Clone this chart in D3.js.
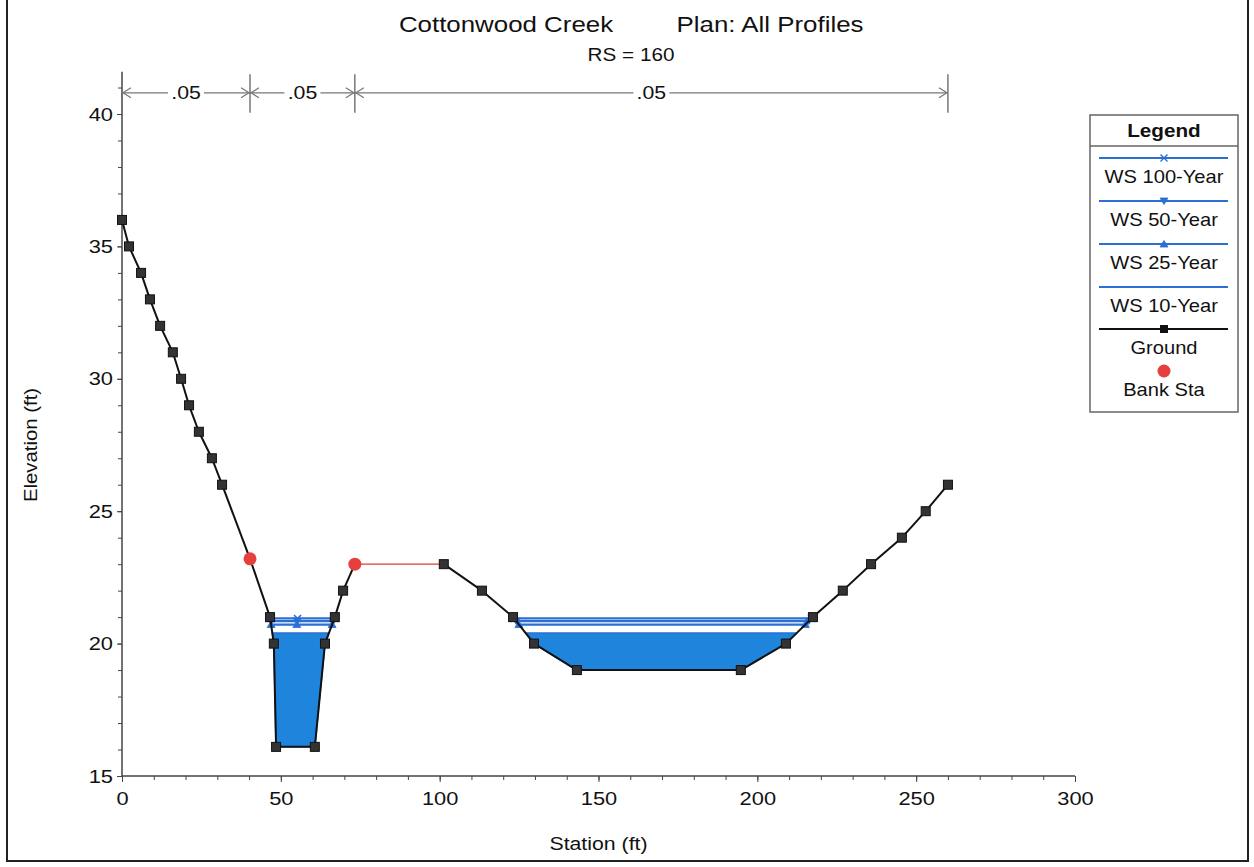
<!DOCTYPE html>
<html>
<head>
    <meta charset="utf-8" />
    <title>Cottonwood Creek RS 160</title>
    <style>
        body { margin: 0; background: #fff; }
        text { font-family: "Liberation Sans", Arial, sans-serif; fill: #111; }
    </style>
</head>
<body>
    <div id="chart"></div>

    <script src="https://d3js.org/d3.v7.min.js"></script>
    <script>
        // cross section ground (station ft, elevation ft)
        const groundSta = [0, 2.2, 6, 8.8, 12, 16, 18.6, 21.1, 24.2, 28.3, 31.5, 40.3, 46.6, 47.8, 48.5, 60.7, 63.9, 67, 69.6, 73.3,
                           101.3, 113.3, 123.1, 129.7, 143.2, 194.8, 209, 217.5, 226.9, 235.8, 245.5, 253, 260];
        const groundElev = [36, 35, 34, 33, 32, 31, 30, 29, 28, 27, 26, 23.2, 21, 20, 16.1, 16.1, 20, 21, 22, 23,
                            23, 22, 21, 20, 19, 19, 20, 21, 22, 23, 24, 25, 26];
        const bankSta = [40.3, 73.3];
        const nValues = [".05", ".05", ".05"];

        const profiles = ["WS 100-Year", "WS 50-Year", "WS 25-Year", "WS 10-Year"];
        const wsElev = [20.95, 20.85, 20.72, 20.40];
        const wsMarker = ["x", "down", "up", "none"];

        const xTicks = [0, 50, 100, 150, 200, 250, 300];
        const yTicks = [15, 20, 25, 30, 35, 40];

        const width = 1254, height = 867;
        const sx = 1.15; // printed fonts are a bit wide

        const svg = d3.select("#chart").append("svg")
            .attr("width", width)
            .attr("height", height);

        const x = d3.scaleLinear().domain([0, 300]).range([122, 1075]);
        const y = d3.scaleLinear().domain([15, 40]).range([776, 114]);

        const blueLine = "#2a6fd4";
        const blueFill = "#1e84dc";

        const addText = (g, px, py, str, size, anchor, weight) => {
            return g.append("text")
                .attr("transform", `translate(${px},${py}) scale(${sx},1)`)
                .attr("text-anchor", anchor || "middle")
                .style("font-size", size + "px")
                .style("font-weight", weight || "normal")
                .text(str);
        };

        // outer frame
        svg.append("rect")
            .attr("x", 7).attr("y", -2)
            .attr("width", 1241).attr("height", 863)
            .attr("fill", "none")
            .attr("stroke", "#222")
            .attr("stroke-width", 2);

        // titles
        addText(svg, 506, 32, "Cottonwood Creek", 22.5);
        addText(svg, 770, 32, "Plan: All Profiles", 22.5);
        addText(svg, 631, 61, "RS = 160", 18);

        // axes
        const xMinor = svg.append("g").attr("transform", `translate(0,${y(15)})`)
            .call(d3.axisBottom(x).tickValues(d3.range(0, 301, 10)).tickSize(4).tickFormat(""));
        const xAxis = svg.append("g").attr("transform", `translate(0,${y(15)})`)
            .call(d3.axisBottom(x).tickValues(xTicks).tickSize(6).tickPadding(10));
        const yMinor = svg.append("g").attr("transform", `translate(${x(0)},0)`)
            .call(d3.axisLeft(y).tickValues(d3.range(15, 42, 1)).tickSize(4).tickFormat(""));
        const yAxis = svg.append("g").attr("transform", `translate(${x(0)},0)`)
            .call(d3.axisLeft(y).tickValues(yTicks).tickSize(5).tickPadding(4));

        [xMinor, xAxis, yMinor, yAxis].forEach(g => {
            g.select(".domain").remove();
            g.selectAll("line").attr("stroke", "#444");
        });
        [xAxis, yAxis].forEach(g => {
            g.selectAll("text")
                .attr("transform", `scale(${sx},1)`)
                .style("font-size", "19px")
                .style("font-family", "'Liberation Sans', Arial, sans-serif")
                .attr("fill", "#111");
        });
        yAxis.selectAll("text").attr("x", -9 / sx);

        svg.append("line")
            .attr("x1", x(0)).attr("x2", x(300))
            .attr("y1", y(15)).attr("y2", y(15))
            .attr("stroke", "#444").attr("stroke-width", 1.5);
        svg.append("line")
            .attr("x1", x(0)).attr("x2", x(0))
            .attr("y1", y(15)).attr("y2", y(41.6))
            .attr("stroke", "#444").attr("stroke-width", 1.5);

        addText(svg, x(150), 850, "Station (ft)", 18.5);
        svg.append("text")
            .attr("transform", `translate(37,${y(27.5)}) rotate(-90) scale(1.1,1)`)
            .attr("text-anchor", "middle")
            .style("font-size", "18.5px")
            .text("Elevation (ft)");

        // manning's n bar along the top
        const nY = y(40.8);
        const nBreaks = [0, bankSta[0], bankSta[1], groundSta[groundSta.length - 1]];
        const nGroup = svg.append("g").attr("stroke", "#777").attr("fill", "none").attr("stroke-width", 1.2);
        nBreaks.slice(1).forEach(s => {
            nGroup.append("line")
                .attr("x1", x(s)).attr("x2", x(s))
                .attr("y1", y(41.5)).attr("y2", y(40.05))
                .attr("stroke", "#555");
        });
        d3.pairs(nBreaks).forEach((p, i) => {
            const x0 = x(p[0]), x1 = x(p[1]), xm = (x0 + x1) / 2;
            const half = 18;
            nGroup.append("line").attr("x1", x0).attr("x2", xm - half).attr("y1", nY).attr("y2", nY);
            nGroup.append("line").attr("x1", xm + half).attr("x2", x1).attr("y1", nY).attr("y2", nY);
            nGroup.append("path").attr("d", `M${x0 + 9},${nY - 5}L${x0 + 1},${nY}L${x0 + 9},${nY + 5}`);
            nGroup.append("path").attr("d", `M${x1 - 9},${nY - 5}L${x1 - 1},${nY}L${x1 - 9},${nY + 5}`);
            addText(svg, xm, nY + 6, nValues[i], 18.5);
        });

        // water surfaces
        const ground = groundSta.map((s, i) => [s, groundElev[i]]);
        const groundAt = (s) => {
            for (let i = 0; i < ground.length - 1; i++) {
                if (s >= ground[i][0] && s <= ground[i + 1][0]) {
                    const t = (s - ground[i][0]) / (ground[i + 1][0] - ground[i][0]);
                    return ground[i][1] + t * (ground[i + 1][1] - ground[i][1]);
                }
            }
            return ground[ground.length - 1][1];
        };
        const wetAreas = (ws) => {
            const areas = [];
            let cur = null;
            for (let i = 0; i < ground.length - 1; i++) {
                const [s0, e0] = ground[i], [s1, e1] = ground[i + 1];
                if (cur === null && e0 >= ws && e1 < ws) {
                    const t = (e0 - ws) / (e0 - e1);
                    cur = [[s0 + t * (s1 - s0), ws]];
                }
                if (cur && e1 < ws) cur.push([s1, e1]);
                if (cur && e0 < ws && e1 >= ws) {
                    const t = (ws - e0) / (e1 - e0);
                    cur.push([s0 + t * (s1 - s0), ws]);
                    areas.push(cur);
                    cur = null;
                }
            }
            return areas;
        };

        const line = d3.line().x(d => x(d[0])).y(d => y(d[1]));

        const markerPath = (type) => {
            if (type === "x") return "M-3.5,-3.5L3.5,3.5M-3.5,3.5L3.5,-3.5";
            if (type === "down") return "M-4,-3L4,-3L0,3.5Z";
            if (type === "up") return "M-4,3L4,3L0,-3.5Z";
            return null;
        };

        // filled lowest profile first
        const lowIdx = profiles.length - 1;
        wetAreas(wsElev[lowIdx]).forEach(a => {
            svg.append("path")
                .attr("d", line(a) + "Z")
                .attr("fill", blueFill)
                .attr("stroke", blueLine)
                .attr("stroke-width", 1.5);
        });

        profiles.forEach((p, i) => {
            if (i === lowIdx) return;
            wetAreas(wsElev[i]).forEach(a => {
                const s0 = a[0][0], s1 = a[a.length - 1][0];
                svg.append("line")
                    .attr("x1", x(s0)).attr("x2", x(s1))
                    .attr("y1", y(wsElev[i])).attr("y2", y(wsElev[i]))
                    .attr("stroke", blueLine)
                    .attr("stroke-width", 2.2);
                const spots = [s0, s1];
                if (s0 > bankSta[0] && s1 < bankSta[1]) spots.push((s0 + s1) / 2 - 1.5);
                spots.forEach(s => {
                    const isX = wsMarker[i] === "x";
                    svg.append("path")
                        .attr("transform", `translate(${x(s)},${y(wsElev[i])})`)
                        .attr("d", markerPath(wsMarker[i]))
                        .attr("fill", isX ? "none" : blueLine)
                        .attr("stroke", blueLine)
                        .attr("stroke-width", isX ? 1.6 : 0.8);
                });
            });
        });

        // ground line, the stretch right of the right bank is drawn red
        d3.pairs(ground).forEach(pr => {
            const red = pr[0][0] === bankSta[1];
            svg.append("line")
                .attr("x1", x(pr[0][0])).attr("y1", y(pr[0][1]))
                .attr("x2", x(pr[1][0])).attr("y2", y(pr[1][1]))
                .attr("stroke", red ? "#e03a36" : "#111")
                .attr("stroke-width", red ? 1.2 : 2);
        });

        svg.selectAll("rect.ground")
            .data(ground.filter(d => bankSta.indexOf(d[0]) < 0))
            .enter()
            .append("rect")
            .attr("class", "ground")
            .attr("x", d => x(d[0]) - 4.5)
            .attr("y", d => y(d[1]) - 4.5)
            .attr("width", 9).attr("height", 9)
            .attr("fill", "#333")
            .attr("stroke", "#111")
            .attr("stroke-width", 1);

        svg.selectAll("circle.bank")
            .data(bankSta)
            .enter()
            .append("circle")
            .attr("class", "bank")
            .attr("cx", d => x(d))
            .attr("cy", d => y(groundAt(d)))
            .attr("r", 6.5)
            .attr("fill", "#e5403d");

        // legend
        const lg = svg.append("g");
        lg.append("rect")
            .attr("x", 1090).attr("y", 115)
            .attr("width", 148).attr("height", 297)
            .attr("fill", "#fff")
            .attr("stroke", "#666")
            .attr("stroke-width", 1.5);
        lg.append("line")
            .attr("x1", 1090).attr("x2", 1238)
            .attr("y1", 146).attr("y2", 146)
            .attr("stroke", "#666").attr("stroke-width", 1.5);
        addText(lg, 1164, 137, "Legend", 18, "middle", "bold");

        const lgX0 = 1099, lgX1 = 1228, lgXm = 1164;
        profiles.forEach((p, i) => {
            const ly = 158 + i * 43;
            lg.append("line")
                .attr("x1", lgX0).attr("x2", lgX1)
                .attr("y1", ly).attr("y2", ly)
                .attr("stroke", blueLine).attr("stroke-width", 2);
            const mp = markerPath(wsMarker[i]);
            if (mp) {
                const isX = wsMarker[i] === "x";
                lg.append("path")
                    .attr("transform", `translate(${lgXm},${ly})`)
                    .attr("d", mp)
                    .attr("fill", isX ? "none" : blueLine)
                    .attr("stroke", blueLine)
                    .attr("stroke-width", isX ? 1.4 : 0.8);
            }
            addText(lg, lgXm, ly + 25, p, 17.5);
        });
        const gy = 158 + 4 * 43 - 1;
        lg.append("line")
            .attr("x1", lgX0).attr("x2", lgX1)
            .attr("y1", gy).attr("y2", gy)
            .attr("stroke", "#111").attr("stroke-width", 2);
        lg.append("rect")
            .attr("x", lgXm - 4).attr("y", gy - 4)
            .attr("width", 8).attr("height", 8)
            .attr("fill", "#111");
        addText(lg, lgXm, gy + 25, "Ground", 17.5);
        lg.append("circle")
            .attr("cx", lgXm).attr("cy", 371)
            .attr("r", 6.5)
            .attr("fill", "#e5403d");
        addText(lg, lgXm, 396, "Bank Sta", 17.5);
    </script>
</body>
</html>
